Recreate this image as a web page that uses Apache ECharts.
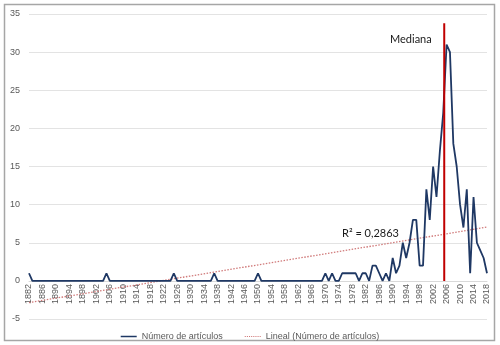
<!DOCTYPE html>
<html>
<head>
<meta charset="utf-8">
<script src="https://cdn.jsdelivr.net/npm/echarts@6/dist/echarts.min.js"></script>
<style>html,body{margin:0;padding:0;background:#fff}#c{width:500px;height:345px}</style>
</head>
<body>
<div id="c"></div>
<script>
// Years 1882..2018 (categories)
const startYear = 1882, endYear = 2018;
const years = [];
for (let y = startYear; y <= endYear; y++) years.push(String(y));

// Número de artículos per year, 1882..2018
const articles = [
  1,0,0,0,0,0,0,0,                 // 1882-1889
  0,0,0,0,0,0,0,0,0,0,             // 1890s
  0,0,0,0,0,1,0,0,0,0,             // 1900s
  0,0,0,0,0,0,0,0,0,0,             // 1910s
  0,0,0,0,0,1,0,0,0,0,             // 1920s
  0,0,0,0,0,0,0,1,0,0,             // 1930s
  0,0,0,0,0,0,0,0,0,0,             // 1940s
  1,0,0,0,0,0,0,0,0,0,             // 1950s
  0,0,0,0,0,0,0,0,0,0,             // 1960s
  1,0,1,0,0,1,1,1,1,1,             // 1970s
  0,1,1,0,2,2,1,0,1,0,             // 1980s
  3,1,2,5,3,5,8,8,2,2,             // 1990s
  12,8,15,11,17,22,31,30,18,15,    // 2000s
  10,7,12,1,11,5,4,3,1             // 2010-2018
];

// Linear trend endpoints
const trendYears = [1882, 2018];
const trendValues = [-2.85, 7.05];

// Median marker
const medianYear = 2005.3;
const medianTop = 33.8;

const yTicks = { min: -5, max: 35, interval: 5 };

const chart = echarts.init(document.getElementById('c'), null, {renderer: 'canvas'});
const tickFont = 'Liberation Sans, Arial, sans-serif';
chart.setOption({
  animation: false,
  grid: { left: 29, right: 13, top: 14, bottom: 26, containLabel: false, outerBoundsMode: 'none' },
  xAxis: [
    {
      type: 'category', data: years, boundaryGap: false, position: 'bottom', offset: -38,
      axisLine: { onZero: false, lineStyle: { color: '#d9d9d9' } },
      axisTick: { show: false },
      axisLabel: { interval: 3, rotate: 90, fontSize: 9, color: '#595959', fontFamily: tickFont, margin: 3 },
      splitLine: { show: false }
    },
    { type: 'value', min: startYear, max: endYear, show: false }
  ],
  yAxis: {
    type: 'value', min: yTicks.min, max: yTicks.max, interval: yTicks.interval,
    axisLine: { show: false }, axisTick: { show: false },
    axisLabel: { fontSize: 9, color: '#595959', fontFamily: tickFont, margin: 9, showMinLabel: true },
    splitLine: { show: true, lineStyle: { color: '#e3e3e3', width: 1 } }
  },
  legend: {
    top: 327, left: 'center', itemWidth: 16, itemHeight: 8, itemGap: 22,
    textStyle: { fontSize: 9, color: '#595959', fontFamily: tickFont },
    data: [
      { name: 'Número de artículos', icon: 'path://M0,4L16,4L16,5.5L0,5.5Z' },
      { name: 'Lineal (Número de artículos)', icon: 'path://M0,4L1,4L1,5L0,5ZM2,4L3,4L3,5L2,5ZM4,4L5,4L5,5L4,5ZM6,4L7,4L7,5L6,5ZM8,4L9,4L9,5L8,5ZM10,4L11,4L11,5L10,5ZM12,4L13,4L13,5L12,5ZM14,4L15,4L15,5L14,5Z' }
    ]
  },
  series: [
    {
      name: 'Lineal (Número de artículos)', type: 'line', xAxisIndex: 1,
      data: trendYears.map((y, i) => [y, trendValues[i]]),
      showSymbol: false, symbol: 'none',
      lineStyle: { color: '#d07a7a', width: 1.3, type: [1.5, 1.5] },
      itemStyle: { color: '#d07a7a' }, z: 3
    },
    {
      name: 'Número de artículos', type: 'line', data: articles,
      showSymbol: false, symbol: 'none',
      lineStyle: { color: '#1f3864', width: 1.8 },
      itemStyle: { color: '#1f3864' }, z: 4
    },
    {
      name: 'Mediana', type: 'line', xAxisIndex: 1,
      data: [[medianYear, 0], [medianYear, medianTop]],
      showSymbol: false, symbol: 'none',
      lineStyle: { color: '#c00000', width: 2 }, z: 5
    }
  ],
  graphic: [
    { type: 'rect', shape: { x: 4.5, y: 4.5, width: 490, height: 336 },
      style: { fill: 'none', stroke: '#a6a6a6', lineWidth: 1.5 }, silent: true },
    { type: 'text', left: 390, top: 34,
      style: { text: 'Mediana', fontSize: 11, fill: '#1a1a1a', fontFamily: 'Lato, Open Sans, sans-serif' } },
    { type: 'text', left: 342, top: 228,
      style: { text: 'R² = 0,2863', fontSize: 11, fill: '#1a1a1a', fontFamily: 'Lato, Open Sans, sans-serif' } }
  ]
});
</script>
</body>
</html>
